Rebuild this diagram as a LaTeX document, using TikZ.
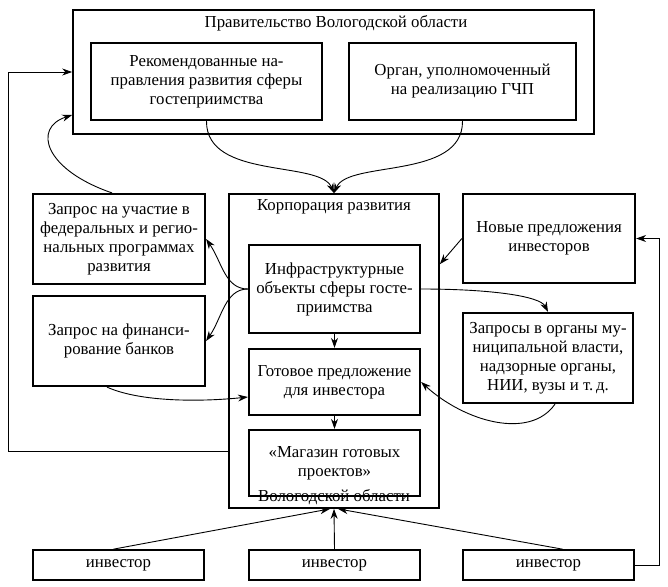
\documentclass[tikz,border=0pt]{standalone}
\usepackage{fontspec}
\setmainfont{Liberation Serif}
\usetikzlibrary{positioning, arrows.meta}

\begin{document}
\begin{tikzpicture}
  [x=1pt,y=-1pt,
   basicbox/.style={draw,rectangle,line width=2.2pt,inner sep=0pt,align=center,font=\fontsize{16.8}{19}\selectfont},
   outerbox/.style={basicbox,line width=1.7pt},
   innerbox/.style={basicbox,minimum width=171pt},
   sidebox/.style={basicbox,minimum width=172pt,minimum height=90pt},
   investorbox/.style={basicbox,line width=1.7pt,minimum width=171pt,minimum height=30pt},
   titletext/.style={inner sep=0pt,font=\fontsize{16.8}{19}\selectfont},
   link/.style={-{Stealth[length=10pt,width=7pt]},line width=0.9pt}]
  \useasboundingbox (0,0) rectangle (668,586);
  \node (gov) at (333.5,72) [outerbox,minimum width=521pt,minimum height=124pt] {};
  \node (govtitle) at (336,23) [titletext] {Правительство Вологодской области};
  \node (rec) at (206.5,81.5) [basicbox,minimum width=231pt,minimum height=77pt] {Рекомендованные на-\\правления развития сферы\\гостеприимства};
  \node (organ) at (462.5,81.5) [basicbox,minimum width=227pt,minimum height=77pt] {Орган, уполномоченный\\на реализацию ГЧП};
  \node (corp) at (334,351) [outerbox,minimum width=210pt,minimum height=314pt] {};
  \node (corptitle) at (334,207) [titletext] {Корпорация развития};
  \node (infra) at (334.5,289) [innerbox,minimum height=88pt] {Инфраструктурные\\объекты сферы госте-\\приимства};
  \node (ready) at (334.5,382) [innerbox,minimum height=66pt] {Готовое предложение\\для инвестора};
  \node (shop) at (334.5,463) [innerbox,minimum height=66pt] {«Магазин готовых\\проектов»};
  \node (corpregion) at (334,497) [titletext] {Вологодской области};
  \node (part) at (119,239) [sidebox] {Запрос на участие в\\федеральных и регио-\\нальных программах\\развития};
  \node (fin) at (119,341) [sidebox] {Запрос на финанси-\\рование банков};
  \node (newinv) at (549,238.5) [sidebox,minimum height=89pt] {Новые предложения\\инвесторов};
  \node (req) at (548,358) [sidebox,minimum width=170pt] {Запросы в органы му-\\ниципальной власти,\\надзорные органы,\\НИИ, вузы и т.\,д.};
  \node (inv1) at (118.5,565) [investorbox] {инвестор};
  \node (inv2) at (334.5,565) [investorbox] {инвестор};
  \node (inv3) at (548.5,565) [investorbox] {инвестор};
  \coordinate (leftrail) at (8,451);
  \coordinate (rightrail) at (659,565);
  \draw [link] (rec.south) .. controls (206,180) and (320,160) .. (corp.north);
  \draw [link] (organ.south) .. controls (463,180) and (348,160) .. (corp.north);
  \draw [link] ([xshift=-7pt]part.north) .. controls (45,170) and (32,128) .. ([yshift=-43pt]gov.west);
  \draw [link] ([yshift=-100pt]corp.west) -- (leftrail) |- (gov.west);
  \draw [link] (infra.west) .. controls (225,289) and (222,262) .. (part.east);
  \draw [link] (infra.west) .. controls (225,289) and (222,318) .. (fin.east);
  \draw [link] ([xshift=-12pt]fin.south) .. controls (140,402) and (200,402) .. ([yshift=-15pt]ready.west);
  \draw [link] (infra.east) .. controls (490,289) and (540,296) .. (req.north);
  \draw [link] ([xshift=7pt]req.south) .. controls (530,440) and (465,422) .. (ready.east);
  \draw [link] (newinv.west) -- ([yshift=-71pt]corp.north east);
  \draw [link] (inv3.east) -- (rightrail) |- (newinv.east);
  \draw [link] (infra) -- (ready);
  \draw [link] (ready) -- (shop);
  \draw [link] ([xshift=-5pt]inv1.north) -- ([xshift=-4pt]corp.south);
  \draw [link] (inv2.north) -- (corp.south);
  \draw [link] ([xshift=14pt]inv3.north) -- ([xshift=4pt]corp.south);
\end{tikzpicture}
\end{document}
